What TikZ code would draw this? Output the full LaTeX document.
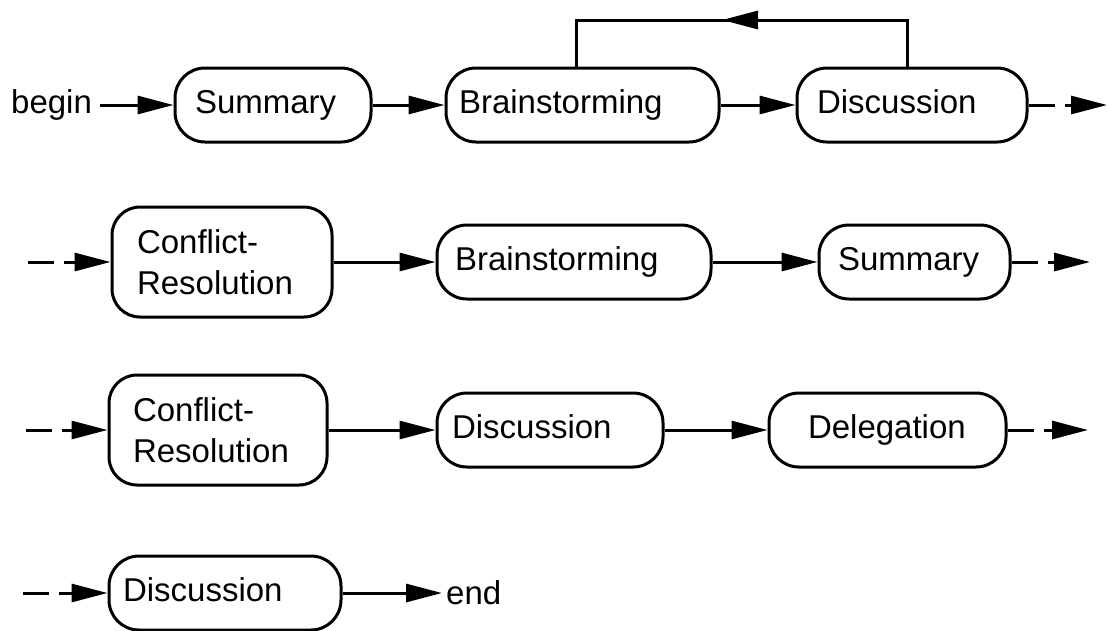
\documentclass[tikz,border=0pt]{standalone}
\usepackage{fontspec}
\setmainfont{Liberation Sans}
\usetikzlibrary{arrows.meta}
\begin{document}
\begin{tikzpicture}[x=1pt,y=-1pt,
  every node/.style={font=\fontsize{33}{41}\selectfont},
  stage/.style 2 args={draw, line width=3pt, rounded corners=30pt, minimum height=74pt,
    text width=#1, inner xsep=#2, inner ysep=0pt, align=left,
    text height=25pt, text depth=9pt},
  tall/.style={minimum height=110pt, rounded corners=28pt, text height=, text depth=},
  flow/.style={line width=3pt, -{Triangle[length=36pt,width=18pt]}},
  cont/.style={flow, dash pattern=on 26pt off 10pt on 400pt},
  termtext/.style={inner sep=0pt, anchor=west}]
\useasboundingbox (0,0) rectangle (1110,630);

% row 1
\node[termtext] (begin) at (11,105) {begin};
\node[stage={156pt}{20pt}] (s1) at (273,105) {Summary};
\node[stage={247pt}{13pt}] (b1) at (582.5,105) {Brainstorming};
\node[stage={190pt}{20pt}] (d1) at (912,105) {Discussion};
\coordinate (e1) at (1107,105);
\coordinate (lr) at (907,20);
\coordinate (ll) at (576,20);
\coordinate (lt) at (722,20);

% row 2
\coordinate (i2) at (28,262);
\node[stage={170pt}{25pt},tall] (c2) at (222,262) {Conflict-\\Resolution};
\node[stage={238pt}{18pt}] (b2) at (574,262) {Brainstorming};
\node[stage={153pt}{19pt}] (s2) at (914.5,262) {Summary};
\coordinate (e2) at (1090,262);

% row 3
\coordinate (i3) at (26,430);
\node[stage={170pt}{24pt},tall] (c3) at (218,430) {Conflict-\\Resolution};
\node[stage={196pt}{15pt}] (d3) at (550,430) {Discussion};
\node[stage={159pt}{39pt}] (g3) at (887.5,430) {Delegation};
\coordinate (e3) at (1088,430);

% row 4
\coordinate (i4) at (23,593);
\node[stage={204pt}{14pt}] (d4) at (225,593) {Discussion};
\node[termtext] (fin) at (446,593) {end};

% connectors
\draw[flow, shorten <=8pt] (begin.east |- s1.west) -- (s1.west);
\draw[flow] (s1) -- (b1);
\draw[flow] (b1) -- (d1);
\draw[cont] (d1) -- (e1);
\draw[line width=3pt] (d1.north -| lr) -- (lr) -- (ll) -- (b1.north -| ll);
\draw[flow] (lr) -- (lt);

\draw[cont] (i2) -- (c2);
\draw[flow] (c2) -- (b2);
\draw[flow] (b2) -- (s2);
\draw[cont] (s2) -- (e2);

\draw[cont] (i3) -- (c3);
\draw[flow] (c3) -- (d3);
\draw[flow] (d3) -- (g3);
\draw[cont] (g3) -- (e3);

\draw[cont] (i4) -- (d4);
\draw[flow, shorten >=4pt] (d4) -- (fin);
\end{tikzpicture}
\end{document}
